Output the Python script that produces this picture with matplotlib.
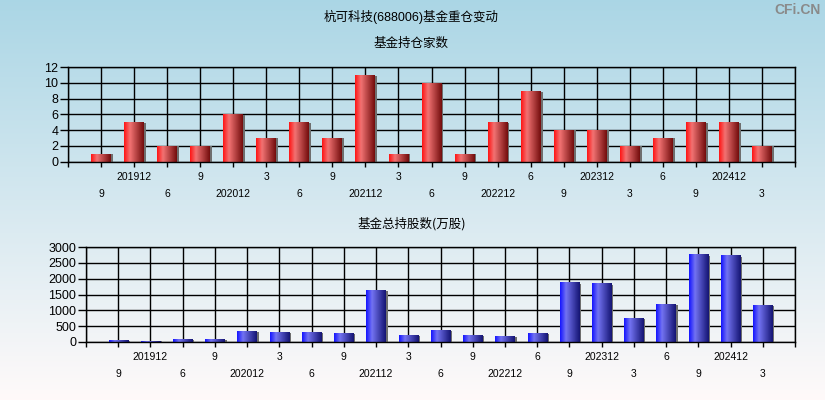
import matplotlib.pyplot as plt
import numpy as np
from matplotlib.colors import LinearSegmentedColormap

plt.rcParams['font.family'] = ['Liberation Sans', 'Noto Sans CJK SC', 'DejaVu Sans']

# report periods (202003 and 202303 have no data)
periods = ["201909", "201912", "202006", "202009", "202012", "202103", "202106",
           "202109", "202112", "202203", "202206", "202209", "202212", "202306",
           "202309", "202312", "202403", "202406", "202409", "202412", "202503"]
fund_counts = [1, 5, 2, 2, 6, 3, 5, 3, 11, 1, 10, 1, 5, 9, 4, 4, 2, 3, 5, 5, 2]
fund_shares = [35, 30, 70, 70, 325, 295, 295, 263, 1620, 200, 358, 200, 168, 263,
               1875, 1842, 737, 1180, 2758, 2726, 1147]

title = "杭可科技(688006)基金重仓变动"
title_top = "基金持仓家数"
title_bottom = "基金总持股数(万股)"

red_cm = LinearSegmentedColormap.from_list(
    "red", [(0, (1.0, 0.08, 0.08)), (0.3, (0.95, 0.45, 0.45)), (1, (0.45, 0.05, 0.05))])
blue_cm = LinearSegmentedColormap.from_list(
    "blue", [(0, (0.08, 0.08, 1.0)), (0.3, (0.45, 0.45, 0.95)), (1, (0.08, 0.08, 0.45))])

fig = plt.figure(figsize=(8.25, 4), dpi=100)

# background gradient
bg = fig.add_axes([0, 0, 1, 1], zorder=-10)
grad = np.linspace(0, 1, 256).reshape(-1, 1)
bg_cm = LinearSegmentedColormap.from_list("bg", [(0.67, 0.84, 0.90), (1.0, 0.98, 0.98)])
bg.imshow(grad, aspect="auto", cmap=bg_cm, extent=[0, 1, 0, 1], origin="upper")
bg.axis("off")

fig.text(411.5 / 825, 1 - 17 / 400, title, ha="center", va="center", fontsize=9,
         family=['Liberation Sans', 'Noto Sans CJK SC'])
fig.text(411.5 / 825, 1 - 43 / 400, title_top, ha="center", va="center", fontsize=9,
         family=['Noto Sans CJK SC'])
fig.text(411.5 / 825, 1 - 224 / 400, title_bottom, ha="center", va="center", fontsize=9,
         family=['Noto Sans CJK SC', 'Liberation Sans'])
fig.text(821 / 825, 1 - 10 / 400, "CFi.CN", ha="right", va="center", fontsize=10,
         fontweight="bold", color="#8a8a8a", family="Liberation Sans")

x = np.arange(1, len(periods) + 1)
labels = [p if p.endswith("12") else str(int(p[4:])) for p in periods]


def draw(ax, values, cmap, ymax, ystep, shadow_dx):
    ax.set_facecolor("none")
    w = 0.6
    g = np.linspace(0, 1, 64).reshape(1, -1)
    for xi, v in zip(x, values):
        ax.bar(xi + shadow_dx, v * 0.985, width=w, color="#6e6e6e", zorder=2)
        ax.imshow(g, cmap=cmap, aspect="auto", extent=[xi - w / 2, xi + w / 2, 0, v],
                  zorder=3, interpolation="bilinear")
    ax.set_xlim(0, len(periods) + 1)
    ax.set_ylim(0, ymax)
    ax.set_yticks(np.arange(0, ymax + 1, ystep))
    major = [0] + list(x[1::2]) + [len(periods) + 1]
    major_lab = [""] + [labels[i - 1] for i in x[1::2]] + [""]
    minor = list(x[0::2])
    minor_lab = [labels[i - 1] for i in minor]
    ax.set_xticks(major, major_lab)
    ax.set_xticks(minor, minor_lab, minor=True)
    ax.tick_params(axis="x", which="both", length=3.5, width=1, labelsize=7.5, color="black")
    ax.tick_params(axis="x", which="major", pad=4)
    ax.tick_params(axis="x", which="minor", pad=16)
    ax.tick_params(axis="y", length=6, width=1, labelsize=9, pad=1)
    ax.grid(True, which="both", color="black", linewidth=1.0, zorder=1)
    ax.set_axisbelow(True)
    for s in ax.spines.values():
        s.set_linewidth(1.0)
        s.set_zorder(4)


ax1 = fig.add_axes([68 / 825, 1 - 161.5 / 400, 727 / 825, 94.5 / 400])
draw(ax1, fund_counts, red_cm, 12, 2, 0.06)

ax2 = fig.add_axes([86 / 825, 1 - 342 / 400, 709 / 825, 95 / 400])
draw(ax2, fund_shares, blue_cm, 3000, 500, 0.06)

fig.savefig("out.png", dpi=100)
